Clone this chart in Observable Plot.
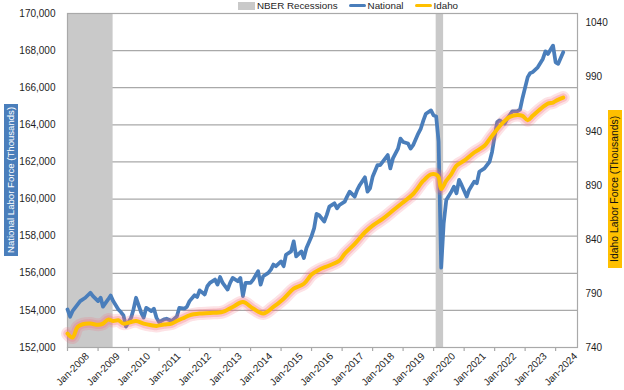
<!DOCTYPE html>
<html>
<head>
<meta charset="utf-8">
<script src="https://cdn.jsdelivr.net/npm/d3@7"></script>
<script src="https://cdn.jsdelivr.net/npm/@observablehq/plot@0.6"></script>
<style>
  html, body { margin: 0; padding: 0; background: #fff; }
  #wrap { position: relative; width: 624px; height: 390px; font-family: "Liberation Sans", Arial, sans-serif; color: #1e1e1e; }
  #legend { position: absolute; top: 0px; left: 238px; height: 11px; display: flex; align-items: center; font-size: 9.8px; line-height: 11px; white-space: nowrap; }
  #legend .sw { display: inline-block; margin-right: 2px; }
  #legend .item { display: flex; align-items: center; margin-right: 11px; }
  .ytitle { position: absolute; writing-mode: vertical-rl; transform: rotate(180deg); line-height: 14px; text-align: center; white-space: nowrap; }
</style>
</head>
<body>
<div id="wrap">
  <div id="chart"></div>
  <div id="legend"></div>
  <div id="ltitle" class="ytitle"></div>
  <div id="rtitle" class="ytitle"></div>
</div>
<script>
// ---------- data ----------
const natDates = ["2008-01","2008-02","2008-03","2008-06","2008-08","2008-10","2008-11","2009-01","2009-02","2009-03","2009-05","2009-06","2009-07","2009-09","2009-10","2009-11","2009-12","2010-02","2010-03","2010-04","2010-06","2010-07","2010-08","2010-10","2010-11","2010-12","2011-01","2011-03","2011-04","2011-06","2011-08","2011-09","2011-11","2011-12","2012-01","2012-03","2012-04","2012-05","2012-07","2012-08","2012-09","2012-11","2012-12","2013-01","2013-02","2013-04","2013-05","2013-06","2013-08","2013-09","2013-10","2013-11","2014-01","2014-02","2014-04","2014-05","2014-06","2014-08","2014-09","2014-10","2014-11","2015-01","2015-02","2015-03","2015-05","2015-06","2015-07","2015-09","2015-10","2015-11","2016-01","2016-02","2016-03","2016-04","2016-06","2016-07","2016-08","2016-10","2016-11","2016-12","2017-02","2017-03","2017-04","2017-06","2017-07","2017-08","2017-10","2017-11","2017-12","2018-01","2018-03","2018-04","2018-05","2018-07","2018-08","2018-09","2018-11","2018-12","2019-01","2019-03","2019-04","2019-05","2019-07","2019-08","2019-09","2019-10","2019-12","2020-01","2020-02","2020-03","2020-04","2020-05","2020-06","2020-08","2020-09","2020-10","2020-11","2020-12","2021-02","2021-03","2021-05","2021-06","2021-07","2021-09","2021-11","2021-12","2022-01","2022-02","2022-03","2022-05","2022-06","2022-08","2022-10","2022-11","2022-12","2023-02","2023-03","2023-04","2023-06","2023-08","2023-09","2023-10","2023-12","2024-01","2024-02","2024-04"];
const natValues = [154050,153660,153960,154500,154680,154950,154770,154500,154680,154200,154590,154800,154500,154050,153910,153730,153125,153610,154050,154680,153875,153610,154140,153960,154090,153610,153370,153520,153550,153425,153660,154140,154090,154200,154500,154820,154720,155080,154860,155300,155480,155660,155390,155800,155480,155125,155480,155750,155570,155750,154770,155480,155480,155660,156110,155390,155840,156020,156200,156470,156380,156640,156380,157000,157180,157720,156910,157180,156825,157360,158000,158430,159200,159130,158790,159150,159590,159770,159500,159680,159860,160130,160400,160130,160490,160760,161170,160400,160580,161200,161830,161830,162010,162370,161650,162190,162720,163260,163080,162990,162720,162900,163530,163800,164240,164600,164780,164510,164450,163100,156300,158700,159950,160400,160670,160310,161030,160760,160130,160490,160940,160850,161470,161650,162010,162540,163400,164150,164240,164070,164330,164730,164740,164820,165450,166570,166780,166840,167100,167550,167960,167820,168270,167370,167290,167910];

const idaDates = ["2008-01","2008-03","2008-05","2008-07","2008-10","2009-01","2009-03","2009-05","2009-07","2009-09","2009-11","2010-02","2010-04","2010-07","2010-10","2010-12","2011-03","2011-06","2011-08","2011-11","2012-01","2012-05","2012-09","2013-02","2013-06","2013-10","2014-02","2014-06","2014-10","2015-02","2015-06","2015-10","2016-01","2016-04","2016-08","2016-12","2017-02","2017-06","2017-10","2018-01","2018-05","2018-09","2019-01","2019-05","2019-09","2019-12","2020-02","2020-03","2020-04","2020-06","2020-08","2020-10","2021-01","2021-05","2021-09","2021-11","2022-02","2022-05","2022-07","2022-10","2022-12","2023-02","2023-04","2023-07","2023-10","2023-12","2024-01","2024-04"];
const idaValues = [752.9,749.2,759,761.5,762.1,761,762.1,765.8,764.5,765.2,762.1,763.6,764.5,762.1,760.6,760,761.2,762.1,764.5,767.7,769.8,771.4,771.9,772.9,777.5,782,776,771.4,777.5,785.2,794.4,799,807.5,812,815.9,820.5,826.7,835.9,846.6,852.8,859,866.7,874.3,882,894.3,900.2,900,897.7,886.7,894.3,900.5,908.2,912.8,920.4,926.6,932.8,942,949.7,953.4,955.2,954.3,950.3,954.3,960.5,965.6,966.6,968.1,971.2];

const recessionStart = ["2007-12-01","2020-02-01"];
const recessionEnd   = ["2009-06-30","2020-04-30"];

const natTicks = [152000,154000,156000,158000,160000,162000,164000,166000,168000,170000];
const idaTicks = [740,790,840,890,940,990,1040];
const yearTicks = ["2008","2009","2010","2011","2012","2013","2014","2015","2016","2017","2018","2019","2020","2021","2022","2023","2024"];

const natDomain = [152000, 170000];
const idaDomain = [740, 1049];
const xDomain = ["2008-01-01", "2024-09-19"];

const seriesNames = ["NBER Recessions", "National", "Idaho"];
const axisTitles = ["National Labor Force (Thousands)", "Idaho Labor Force (Thousands)"];
const colors = {rec: "#c9c9c9", nat: "#4a7ebb", ida: "#ffc000", glow: "#f7707e", grid: "#a9a9a9"};

// ---------- build ----------
const parse = d3.utcParse("%Y-%m");
const nat = natDates.map((d, i) => ({date: parse(d), value: natValues[i]}));
const ida = idaDates.map((d, i) => ({date: parse(d), value: idaValues[i]}));
const rec = recessionStart.map((s, i) => ({start: new Date(s), end: new Date(recessionEnd[i])}));
const years = yearTicks.map(y => new Date(`${y}-01-01`));
const toNat = d3.scaleLinear(idaDomain, natDomain);
const fmtJan = d3.utcFormat("Jan-%Y");

const chart = Plot.plot({
  width: 624,
  height: 390,
  marginLeft: 67,
  marginRight: 47,
  marginTop: 13,
  marginBottom: 43,
  style: {fontFamily: '"Liberation Sans", Arial, sans-serif', fontSize: "10px", color: "#1e1e1e", background: "#fff"},
  x: {type: "utc", domain: xDomain.map(d => new Date(d))},
  y: {domain: natDomain},
  marks: [
    Plot.gridY(natTicks, {stroke: colors.grid, strokeOpacity: 1, strokeWidth: 1.2}),
    Plot.rect(rec, {x1: "start", x2: "end", fill: colors.rec, clip: true}),
    Plot.frame({stroke: colors.grid, strokeWidth: 1.2}),
    Plot.axisY(natTicks, {anchor: "left", label: null, tickSize: 0, tickPadding: 12, tickFormat: d3.format(","), fill: "#1e1e1e"}),
    Plot.axisY(idaTicks.map(v => toNat(v)), {anchor: "right", label: null, tickSize: 0, tickPadding: 8, tickFormat: d => String(Math.round(toNat.invert(d))), fill: "#1e1e1e"}),
    Plot.axisX(years, {anchor: "bottom", label: null, tickSize: 4, tickFormat: () => "", stroke: colors.grid, strokeWidth: 1.2}),
    Plot.axisX(years, {anchor: "bottom", label: null, tickSize: 0, tickPadding: 4, tickRotate: -45, tickFormat: fmtJan, dx: 20, dy: 3, fill: "#1e1e1e"}),
    Plot.line(nat, {x: "date", y: "value", stroke: colors.nat, strokeWidth: 3.75, strokeLinejoin: "round", strokeLinecap: "round"}),
    Plot.line(ida, {x: "date", y: d => toNat(d.value), stroke: colors.glow, strokeOpacity: 0.2, strokeWidth: 13, curve: "catmull-rom", strokeLinejoin: "round", strokeLinecap: "round"}),
    Plot.line(ida, {x: "date", y: d => toNat(d.value), stroke: colors.glow, strokeOpacity: 0.3, strokeWidth: 8.5, curve: "catmull-rom", strokeLinejoin: "round", strokeLinecap: "round"}),
    Plot.line(ida, {x: "date", y: d => toNat(d.value), stroke: colors.ida, strokeWidth: 4, curve: "catmull-rom", strokeLinejoin: "round", strokeLinecap: "round"})
  ]
});
document.getElementById("chart").appendChild(chart);

// legend
const legend = document.getElementById("legend");
const swatches = [
  `<span class="sw" style="width:17px;height:8px;background:${colors.rec}"></span>`,
  `<span class="sw" style="width:17px;height:3.5px;background:${colors.nat};border-radius:2px"></span>`,
  `<span class="sw" style="width:17px;height:3.5px;background:${colors.ida};border-radius:2px"></span>`
];
legend.innerHTML = seriesNames.map((n, i) => `<span class="item">${swatches[i]}<span>${n}</span></span>`).join("");

// axis titles
const lt = document.getElementById("ltitle");
lt.textContent = axisTitles[0];
Object.assign(lt.style, {left: "4px", top: "104px", width: "14px", height: "152px", background: colors.nat, color: "#fff", fontSize: "9.6px"});
const rt = document.getElementById("rtitle");
rt.textContent = axisTitles[1];
Object.assign(rt.style, {left: "608px", top: "110px", width: "14px", height: "158px", background: colors.ida, color: "#111", fontSize: "10.4px"});
</script>
</body>
</html>
